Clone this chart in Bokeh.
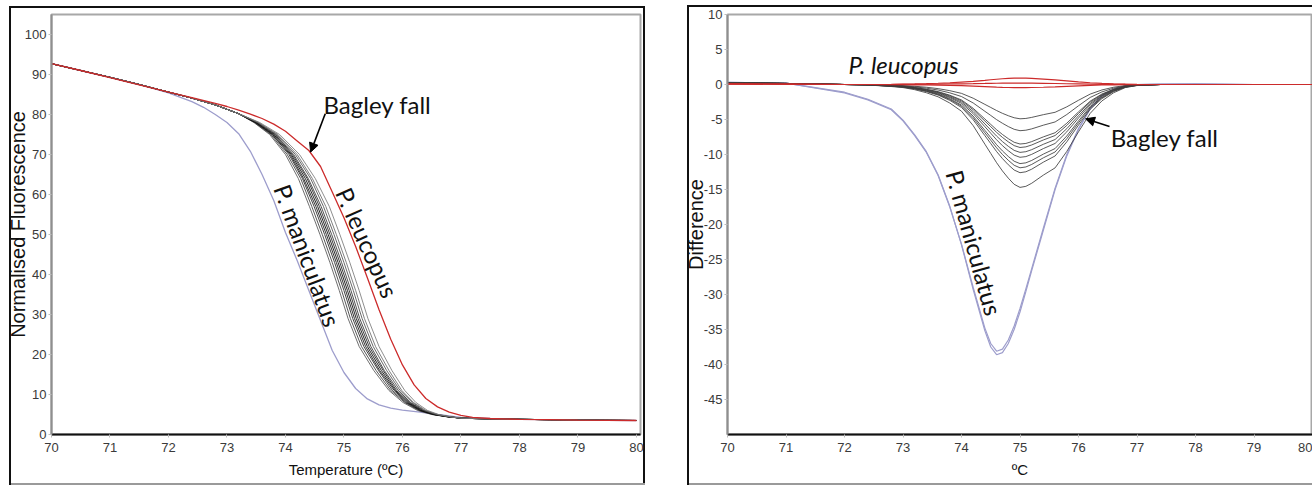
from bokeh.plotting import figure
from bokeh.layouts import row
from bokeh.models import Range1d, FixedTicker, Arrow, NormalHead, Label
from bokeh.embed import file_html
from bokeh.resources import INLINE

# ---------------- Normalised melt curves (left panel) ----------------
# shared start and end of the Bagley fall curves (temperature °C, fluorescence)
melt_head_t = [70.0, 70.5, 71.0, 71.5, 72.0, 72.4, 72.8, 73.2]
melt_head_f = [92.7, 91.0, 89.3, 87.5, 85.6, 84.1, 82.4, 80.2]
melt_tail_t = [77.0, 77.2, 77.5, 78.0, 78.5, 79.0, 79.5, 80.0]
melt_tail_f = [4.1, 4.0, 3.9, 3.8, 3.7, 3.6, 3.55, 3.5]

# fluorescence levels and the temperature at which each Bagley fall sample crosses them
melt_levels = [78, 75, 70, 64, 57, 50, 43, 36, 29, 22, 16, 11, 8, 6, 5, 4.4]
bagley_melt_t = [
    [73.46, 73.73, 74.00, 74.22, 74.41, 74.59, 74.76, 74.92, 75.07, 75.26, 75.51, 75.77, 76.01, 76.26, 76.50, 76.77],
    [73.47, 73.75, 74.03, 74.26, 74.45, 74.63, 74.80, 74.96, 75.11, 75.30, 75.55, 75.80, 76.04, 76.28, 76.52, 76.78],
    [73.48, 73.77, 74.06, 74.29, 74.49, 74.67, 74.84, 75.00, 75.15, 75.34, 75.59, 75.83, 76.06, 76.30, 76.53, 76.79],
    [73.49, 73.78, 74.08, 74.31, 74.52, 74.70, 74.87, 75.03, 75.18, 75.37, 75.61, 75.86, 76.08, 76.31, 76.54, 76.79],
    [73.50, 73.80, 74.10, 74.34, 74.55, 74.73, 74.90, 75.06, 75.21, 75.40, 75.64, 75.88, 76.10, 76.33, 76.55, 76.80],
    [73.51, 73.82, 74.12, 74.37, 74.58, 74.76, 74.93, 75.09, 75.24, 75.43, 75.67, 75.90, 76.12, 76.35, 76.56, 76.81],
    [73.52, 73.83, 74.14, 74.39, 74.61, 74.79, 74.96, 75.12, 75.27, 75.46, 75.69, 75.93, 76.14, 76.36, 76.57, 76.81],
    [73.53, 73.85, 74.17, 74.43, 74.65, 74.83, 75.00, 75.16, 75.31, 75.50, 75.73, 75.96, 76.17, 76.38, 76.59, 76.82],
    [73.54, 73.87, 74.20, 74.46, 74.69, 74.87, 75.04, 75.20, 75.35, 75.54, 75.77, 75.99, 76.19, 76.40, 76.60, 76.83],
    [73.56, 73.90, 74.24, 74.51, 74.75, 74.93, 75.10, 75.26, 75.41, 75.60, 75.82, 76.04, 76.23, 76.43, 76.62, 76.84],
]
bagley_shades = ["#555555", "#3a3a3a", "#222222", "#111111", "#000000",
                 "#1c1c1c", "#333333", "#4d4d4d", "#6a6a6a", "#7a7a7a"]

leucopus_t = [70, 70.5, 71, 71.5, 72, 72.4, 72.8, 73.0, 73.2, 73.4, 73.6, 73.8, 74.0, 74.2, 74.4,
              74.6, 74.8, 75.0, 75.2, 75.4, 75.6, 75.8, 76.0, 76.2, 76.4, 76.6, 76.8, 77.0, 77.2,
              77.5, 78, 78.5, 79, 79.5, 80]
leucopus_f = [92.7, 91.0, 89.2, 87.4, 85.6, 84.2, 82.8, 82.0, 81.1, 80.1, 79.0, 77.6, 75.8, 73.4, 71.0,
              67.0, 60.6, 54.2, 47.0, 39.2, 31.2, 23.8, 17.4, 12.4, 9.0, 6.9, 5.6, 4.8, 4.3,
              4.0, 3.8, 3.7, 3.6, 3.55, 3.5]

maniculatus_t = [70, 70.5, 71, 71.5, 72, 72.4, 72.6, 72.8, 73.0, 73.2, 73.4, 73.6, 73.8, 74.0, 74.2,
                 74.4, 74.6, 74.8, 75.0, 75.2, 75.4, 75.6, 75.8, 76.0, 76.3, 76.6, 77.0, 77.5, 78,
                 78.5, 79, 79.5, 80]
maniculatus_f = [92.7, 91.0, 89.3, 87.5, 85.4, 83.2, 81.8, 80.0, 78.0, 75.2, 70.8, 65.0, 58.5, 50.5, 43.5,
                 36.0, 28.5, 21.0, 15.5, 11.5, 8.9, 7.4, 6.6, 6.1, 5.6, 5.0, 4.3, 4.0, 3.8,
                 3.7, 3.6, 3.55, 3.5]

# ---------------- Difference curves (right panel) ----------------
diff_t = [70, 71, 72, 72.4, 72.8, 73.0, 73.2, 73.4, 73.6, 73.8, 74.0, 74.2, 74.4, 74.5, 74.6, 74.7,
          74.8, 74.9, 75.0, 75.1, 75.2, 75.4, 75.6, 75.8, 76.0, 76.2, 76.4, 76.6, 76.8, 77.0, 77.4,
          78, 79, 80]
bagley_diff = [
    [0.25, 0.15, 0, -0.02, -0.1, -0.15, -0.25, -0.39, -0.59, -0.88, -1.27, -1.96, -2.84, -3.28, -3.72, -4.12,
     -4.46, -4.75, -4.9, -4.85, -4.7, -4.31, -3.97, -3.19, -2.25, -1.37, -0.78, -0.39, -0.15, -0.05, 0, 0, 0, 0],
    [0.25, 0.15, 0, -0.03, -0.13, -0.2, -0.33, -0.53, -0.79, -1.19, -1.72, -2.64, -3.83, -4.42, -5.02, -5.54,
     -6.01, -6.4, -6.6, -6.53, -6.34, -5.81, -5.35, -4.29, -3.04, -1.85, -1.06, -0.53, -0.2, -0.07, 0, 0, 0, 0],
    [0.25, 0.15, 0, -0.04, -0.17, -0.26, -0.43, -0.68, -1.02, -1.53, -2.21, -3.4, -4.93, -5.7, -6.46, -7.14,
     -7.74, -8.25, -8.5, -8.42, -8.16, -7.48, -6.89, -5.53, -3.91, -2.38, -1.36, -0.68, -0.26, -0.09, 0, 0, 0, 0],
    [0.25, 0.15, 0, -0.05, -0.18, -0.27, -0.45, -0.72, -1.08, -1.62, -2.34, -3.6, -5.22, -6.03, -6.84, -7.56,
     -8.19, -8.73, -9.0, -8.91, -8.64, -7.92, -7.29, -5.85, -4.14, -2.52, -1.44, -0.72, -0.27, -0.09, 0, 0, 0, 0],
    [0.25, 0.15, 0, -0.05, -0.19, -0.29, -0.49, -0.78, -1.16, -1.75, -2.52, -3.88, -5.63, -6.5, -7.37, -8.15,
     -8.83, -9.41, -9.7, -9.6, -9.31, -8.54, -7.86, -6.31, -4.46, -2.72, -1.55, -0.78, -0.29, -0.1, 0, 0, 0, 0],
    [0.25, 0.15, 0, -0.05, -0.21, -0.31, -0.52, -0.83, -1.25, -1.87, -2.7, -4.16, -6.03, -6.97, -7.9, -8.74,
     -9.46, -10.09, -10.4, -10.3, -9.98, -9.15, -8.42, -6.76, -4.78, -2.91, -1.66, -0.83, -0.31, -0.1, 0, 0, 0, 0],
    [0.25, 0.15, 0, -0.06, -0.23, -0.34, -0.57, -0.9, -1.36, -2.03, -2.94, -4.52, -6.55, -7.57, -8.59, -9.49,
     -10.28, -10.96, -11.3, -11.19, -10.85, -9.94, -9.15, -7.35, -5.2, -3.16, -1.81, -0.9, -0.34, -0.11, 0, 0, 0, 0],
    [0.25, 0.15, 0, -0.06, -0.24, -0.36, -0.6, -0.95, -1.43, -2.14, -3.09, -4.76, -6.9, -7.97, -9.04, -10.0,
     -10.83, -11.54, -11.9, -11.78, -11.42, -10.47, -9.64, -7.74, -5.47, -3.33, -1.9, -0.95, -0.36, -0.12, 0, 0, 0, 0],
    [0.25, 0.15, 0, -0.06, -0.25, -0.38, -0.63, -1.01, -1.51, -2.27, -3.28, -5.04, -7.31, -8.44, -9.58, -10.58,
     -11.47, -12.22, -12.6, -12.47, -12.1, -11.09, -10.21, -8.19, -5.8, -3.53, -2.02, -1.01, -0.38, -0.13, 0, 0, 0, 0],
    [0.25, 0.15, 0, -0.07, -0.29, -0.44, -0.74, -1.18, -1.76, -2.65, -3.82, -5.88, -8.53, -9.85, -11.17, -12.35,
     -13.38, -14.26, -14.7, -14.55, -14.11, -12.94, -11.91, -9.56, -6.76, -4.12, -2.35, -1.18, -0.44, -0.15, 0, 0, 0, 0],
]
leucopus_diff = [
    [0.1, 0.05, 0, 0, 0.02, 0.05, 0.08, 0.12, 0.18, 0.25, 0.35, 0.45, 0.6, 0.68, 0.75, 0.82,
     0.87, 0.9, 0.92, 0.9, 0.87, 0.78, 0.66, 0.52, 0.38, 0.25, 0.15, 0.08, 0.04, 0.02, 0, 0, 0, 0],
    [0.1, 0.05, 0, 0, -0.01, -0.02, -0.04, -0.06, -0.09, -0.12, -0.16, -0.22, -0.3, -0.34, -0.38, -0.41,
     -0.43, -0.45, -0.46, -0.45, -0.43, -0.39, -0.33, -0.26, -0.19, -0.12, -0.07, -0.04, -0.02, -0.01, 0, 0, 0, 0],
    [0.05, 0.02, 0, 0, 0, 0.02, 0.03, 0.04, 0.06, 0.08, 0.1, 0.12, 0.15, 0.17, 0.18, 0.19,
     0.2, 0.2, 0.2, 0.2, 0.19, 0.17, 0.14, 0.11, 0.08, 0.05, 0.03, 0.02, 0.01, 0, 0, 0, 0, 0],
]
maniculatus_diff = [
    [0.3, 0.2, -1.2, -2.2, -3.6, -5.2, -7.3, -9.7, -13.0, -17.5, -22.8, -29.0, -34.8, -37.0, -38.1, -37.8,
     -36.5, -34.5, -32.0, -29.2, -26.3, -20.5, -14.8, -10.0, -6.3, -3.4, -1.6, -0.7, -0.2, 0.0, 0.05, 0.1, 0.0, 0.0],
    [0.3, 0.2, -1.1, -2.1, -3.5, -5.1, -7.2, -9.6, -12.9, -17.4, -22.9, -29.3, -35.2, -37.5, -38.6, -38.3,
     -37.0, -35.0, -32.5, -29.6, -26.6, -20.8, -15.0, -10.2, -6.4, -3.5, -1.6, -0.7, -0.2, 0.0, 0.05, 0.1, 0.0, 0.0],
]

x_ticks = [70, 71, 72, 73, 74, 75, 76, 77, 78, 79, 80]
melt_y_ticks = [0, 10, 20, 30, 40, 50, 60, 70, 80, 90, 100]
diff_y_ticks = [10, 5, 0, -5, -10, -15, -20, -25, -30, -35, -40, -45]

AXIS_FONT = "Liberation Sans"
LABEL_FONT = "Lato"
BLACK = "#000000"
LAVENDER = "#9d9dcc"
RED = "#cc2b2b"


def panel_box(left, top, width, height, open_right=False):
    """CSS background layers that draw the thin frame around a panel."""
    layers = [
        f"linear-gradient(#111,#111) {left}px {top}px / 2px {height}px no-repeat",
        f"linear-gradient(#111,#111) {left}px {top}px / {width}px 2px no-repeat",
        f"linear-gradient(#9a9a9a,#9a9a9a) {left}px {top + height - 2}px / {width}px 2px no-repeat",
    ]
    if not open_right:
        layers.append(f"linear-gradient(#111,#111) {left + width - 2}px {top}px / 2px {height}px no-repeat")
    return {"background": ", ".join(layers)}


def style_axes(p, ylabel, xlabel, y_ticks, ylabel_standoff):
    p.grid.visible = False
    p.outline_line_color = "#a8a8a8"
    p.outline_line_width = 2
    p.background_fill_color = "white"
    p.border_fill_alpha = 0
    p.xaxis.ticker = FixedTicker(ticks=x_ticks)
    p.yaxis.ticker = FixedTicker(ticks=y_ticks)
    p.yaxis.major_label_overrides = {v: str(v) for v in y_ticks}
    p.xaxis.axis_label = xlabel
    p.yaxis.axis_label = ylabel
    for ax in (p.xaxis[0], p.yaxis[0]):
        ax.major_label_text_font = AXIS_FONT
        ax.major_label_text_font_size = "13px"
        ax.major_label_text_color = "#3a3a3a"
        ax.major_tick_in = 0
        ax.major_tick_out = 3
        ax.major_tick_line_color = "#bdbdbd"
        ax.minor_tick_line_color = None
        ax.axis_label_text_font = AXIS_FONT
        ax.axis_label_text_font_style = "normal"
        ax.axis_label_text_color = "#111111"
    p.xaxis.axis_line_color = "#111111"
    p.xaxis.axis_line_width = 2
    p.xaxis.major_label_standoff = 5
    p.xaxis.axis_label_text_font_size = "15px"
    p.xaxis.axis_label_standoff = 6
    p.yaxis.axis_line_color = "#8f8f8f"
    p.yaxis.axis_line_width = 2
    p.yaxis.major_label_standoff = 2
    p.yaxis.axis_label_text_font_size = "20px"
    p.yaxis.axis_label_standoff = ylabel_standoff


def add_text(p, text, x, y, angle=0.0, align="center", style="normal", size="24px"):
    p.add_layout(Label(x=x, y=y, text=text, angle=angle, text_align=align,
                       text_baseline="middle", text_font=LABEL_FONT,
                       text_font_size=size, text_font_style=style, text_color="#111111"))


def add_arrow(p, x0, y0, x1, y1):
    p.add_layout(Arrow(end=NormalHead(size=9, fill_color=BLACK, line_color=BLACK),
                       x_start=x0, y_start=y0, x_end=x1, y_end=y1,
                       line_color=BLACK, line_width=1.6))


# ---------------- left panel ----------------
p1 = figure(width=672, height=485, x_range=Range1d(70, 80.07), y_range=Range1d(0, 105),
            output_backend="svg", toolbar_location=None,
            min_border_left=51, min_border_right=32, min_border_top=14, min_border_bottom=49,
            styles=panel_box(9, 6, 636, 479))
style_axes(p1, "Normalised Fluorescence", "Temperature (ºC)", melt_y_ticks, -7)

p1.line(maniculatus_t, maniculatus_f, line_color=LAVENDER, line_width=1.3)
for temps, shade in zip(bagley_melt_t, bagley_shades):
    p1.line(melt_head_t + temps + melt_tail_t, melt_head_f + melt_levels + melt_tail_f,
            line_color=shade, line_width=1.0, line_alpha=0.85)
p1.line(leucopus_t, leucopus_f, line_color=RED, line_width=1.3)

add_text(p1, "Bagley fall", 74.65, 82.5, align="left")
add_arrow(p1, 74.68, 80.2, 74.43, 70.6)
add_text(p1, "P. maniculatus", 74.38, 44.8, angle=-1.22)
add_text(p1, "P. leucopus", 75.40, 48.0, angle=-1.15)

# ---------------- right panel ----------------
p2 = figure(width=640, height=485, x_range=Range1d(70, 80), y_range=Range1d(-50, 10),
            output_backend="svg", toolbar_location=None,
            min_border_left=55, min_border_right=0, min_border_top=12, min_border_bottom=51,
            styles=panel_box(15, 5, 625, 480, open_right=True))
style_axes(p2, "Difference", "ºC", diff_y_ticks, -6)

for vals in maniculatus_diff:
    p2.line(diff_t, vals, line_color=LAVENDER, line_width=1.2)
for vals in bagley_diff:
    p2.line(diff_t, vals, line_color="#3d3d3d", line_width=1.0, line_alpha=0.85)
for vals in leucopus_diff:
    p2.line(diff_t, vals, line_color=RED, line_width=1.2)

add_text(p2, "P. leucopus", 73.01, 2.8, style="italic")
add_text(p2, "P. maniculatus", 74.22, -22.6, angle=-1.3)
add_text(p2, "Bagley fall", 76.55, -7.5, align="left")
add_arrow(p2, 76.53, -6.0, 76.12, -4.9)

layout = row(p1, p2)
open("out.html", "w").write(file_html(layout, INLINE))
